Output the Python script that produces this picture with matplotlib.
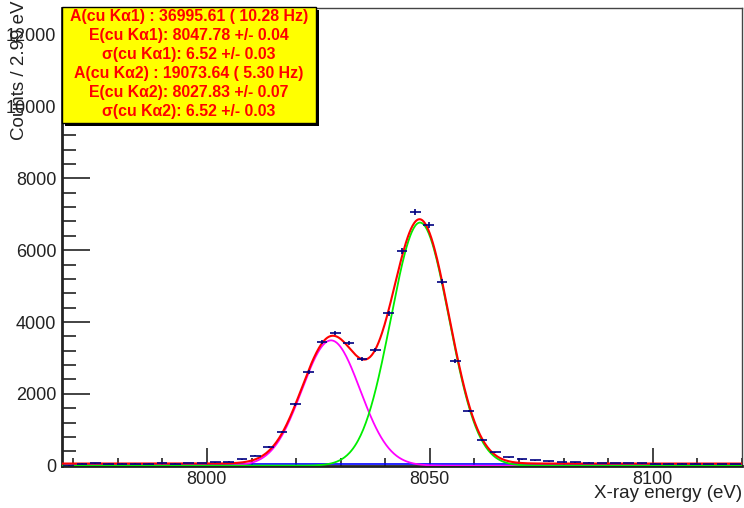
import numpy as np
import matplotlib
matplotlib.use("Agg")
import matplotlib.pyplot as plt
from matplotlib.patches import Rectangle
from matplotlib.ticker import MultipleLocator

plt.rcParams['font.family'] = ['Liberation Sans', 'DejaVu Sans']

# histogram binning
x_lo, x_hi = 7967.5, 8120.0
bin_width = 2.99
n_bins = 51

# counts per bin
counts = [5, 60, 65, 60, 60, 55, 60, 65, 60, 70, 75, 95, 110, 178, 278,
          512, 930, 1709, 2608, 3451, 3701, 3406, 2961, 3220, 4241, 5975,
          7069, 6707, 5121, 2914, 1522, 715, 373, 234, 178, 150, 122, 103,
          95, 85, 80, 75, 70, 65, 60, 60, 55, 55, 50, 50, 50]

# fit results shown in the stat box
amp1, mean1, sig1 = 36995.61, 8047.78, 6.52
amp2, mean2, sig2 = 19073.64, 8027.83, 6.52
bg_level = 60

stat_lines = ["A(cu K\u03b11) : 36995.61 ( 10.28 Hz)",
              "E(cu K\u03b11): 8047.78 +/- 0.04",
              "\u03c3(cu K\u03b11): 6.52 +/- 0.03",
              "A(cu K\u03b12) : 19073.64 ( 5.30 Hz)",
              "E(cu K\u03b12): 8027.83 +/- 0.07",
              "\u03c3(cu K\u03b12): 6.52 +/- 0.03"]

centers = x_lo + (np.arange(n_bins) + 0.5) * bin_width
counts = np.array(counts, dtype=float)

xs = np.linspace(x_lo, x_hi, 800)
def gauss(x, a, m, s):
    return a * bin_width / (s * np.sqrt(2 * np.pi)) * np.exp(-0.5 * ((x - m) / s) ** 2)

g1 = gauss(xs, amp1, mean1, sig1)
g2 = gauss(xs, amp2, mean2, sig2)
total = g1 + g2 + bg_level

W, H = 744, 508
fig = plt.figure(figsize=(W / 100, H / 100), dpi=100)
ax = fig.add_axes([62 / W, (H - 465.7) / H, 680 / W, 458.2 / H])

ax.plot(xs, np.full_like(xs, bg_level * 0.75), color="#0000ff", lw=1.2, zorder=2)
ax.plot(xs, g2, color="#ff00ff", lw=1.3, zorder=3)
ax.plot(xs, g1, color="#00ee00", lw=1.3, zorder=3)
ax.plot(xs, total, color="#ff0000", lw=1.5, zorder=4)
ax.errorbar(centers, counts, xerr=bin_width * 0.4, yerr=np.sqrt(counts),
            fmt="none", ecolor="#000080", elinewidth=1.2, zorder=5)

ax.set_xlim(x_lo, x_hi)
ax.set_ylim(0, 12755)
ax.xaxis.set_major_locator(MultipleLocator(50))
ax.xaxis.set_minor_locator(MultipleLocator(10))
ax.yaxis.set_major_locator(MultipleLocator(2000))
ax.yaxis.set_minor_locator(MultipleLocator(400))
ax.tick_params(which="both", direction="in", top=False, right=False,
               labelsize=13, colors="#222222", width=1.2)
ax.tick_params(axis="x", which="major", length=13, pad=4)
ax.tick_params(axis="x", which="minor", length=6)
ax.tick_params(axis="y", which="major", length=20, pad=4)
ax.tick_params(axis="y", which="minor", length=10)
for s in ["left", "bottom"]:
    ax.spines[s].set_linewidth(2)
    ax.spines[s].set_color("#222222")
for s in ["top", "right"]:
    ax.spines[s].set_linewidth(1)
    ax.spines[s].set_color("#444444")

fig.text(742 / W, 1 - 494 / H, "X-ray energy (eV)", ha="right", va="center",
         fontsize=13.5, color="#222222")
fig.text(20 / W, 1 - 1 / H, "Counts / 2.99 eV", rotation=90, ha="center",
         va="top", fontsize=13.5, color="#222222")

# stat box with shadow
bx0, by0, bx1, by1 = 62, 7, 316, 123
fig.patches.append(Rectangle(((bx0 + 3) / W, 1 - (by1 + 3) / H), (bx1 - bx0) / W,
                             (by1 - by0) / H, transform=fig.transFigure,
                             facecolor="black", edgecolor="none", zorder=10))
fig.patches.append(Rectangle((bx0 / W, 1 - by1 / H), (bx1 - bx0) / W,
                             (by1 - by0) / H, transform=fig.transFigure,
                             facecolor="#ffff00", edgecolor="black", lw=1, zorder=11))
for i, line in enumerate(stat_lines):
    fig.text((bx0 + bx1) / 2 / W, 1 - (16.7 + i * 19) / H, line, ha="center",
             va="center", fontsize=11.4, fontweight="bold", color="#ff0000", zorder=12)

fig.savefig("out.png", dpi=100)
